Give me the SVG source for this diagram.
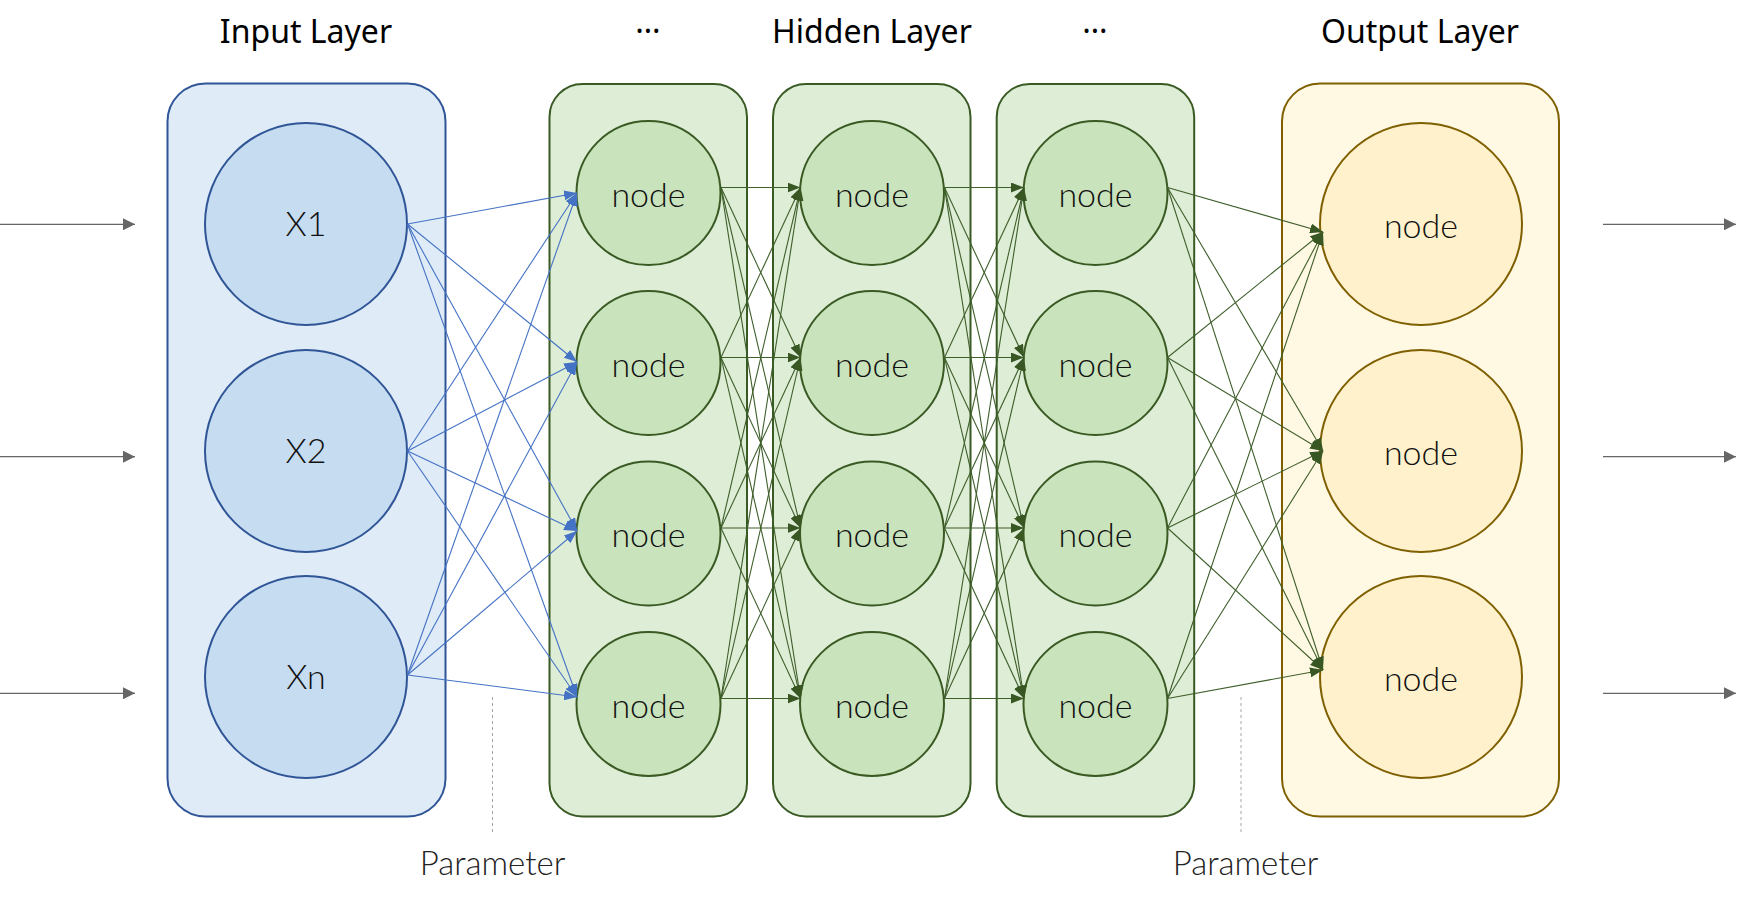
<svg xmlns="http://www.w3.org/2000/svg" width="1751" height="903" viewBox="0 0 1751 903">
<style>
.title{font-family:"Noto Sans","Noto Sans CJK KR",sans-serif;font-size:32px;font-weight:400;fill:#000;text-anchor:middle}
.lbl{font-family:Lato,"Noto Sans","Noto Sans CJK KR",sans-serif;font-size:34px;font-weight:300;fill:#111;text-anchor:middle}
.par{font-family:Lato,"Noto Sans","Noto Sans CJK KR",sans-serif;font-size:33px;font-weight:300;fill:#222;text-anchor:middle}
.inbox{fill:#DFEBF7;stroke:#2F5597;stroke-width:2}
.incir{fill:#C6DCF0;stroke:#2F5597;stroke-width:2}
.hbox{fill:#DEEDD6;stroke:#3A5A24;stroke-width:2}
.hcir{fill:#C9E3BC;stroke:#3A5A24;stroke-width:2}
.obox{fill:#FFF8E3;stroke:#7F6000;stroke-width:2}
.ocir{fill:#FFF1CB;stroke:#7F6000;stroke-width:2}
.cb{stroke:#4472C4;stroke-width:1.1;fill:none;marker-end:url(#ab)}
.cg{stroke:#3E5E2A;stroke-width:1.1;fill:none;marker-end:url(#ag)}
.io{stroke:#666;stroke-width:1.3;fill:none;marker-end:url(#ai)}
.dash{stroke:#A6A6A6;stroke-width:1;stroke-dasharray:3,3;fill:none}
</style>
<defs>
<marker id="ab" viewBox="0 0 13 10" refX="13" refY="5" markerWidth="13" markerHeight="10" markerUnits="userSpaceOnUse" orient="auto"><path d="M0,0 L13,5 L0,10 Z" fill="#4472C4"/></marker>
<marker id="ag" viewBox="0 0 13 10" refX="13" refY="5" markerWidth="13" markerHeight="10" markerUnits="userSpaceOnUse" orient="auto"><path d="M0,0 L13,5 L0,10 Z" fill="#385723"/></marker>
<marker id="ai" viewBox="0 0 12 12" refX="12" refY="6" markerWidth="12" markerHeight="12" markerUnits="userSpaceOnUse" orient="auto"><path d="M0,0 L12,6 L0,12 Z" fill="#666"/></marker>
</defs>
<rect width="1751" height="903" fill="#fff"/>
<g id="titles">
<text class="title" x="306" y="42.5">Input Layer</text>
<text class="title" x="648" y="33">…</text>
<text class="title" x="872" y="42.5">Hidden Layer</text>
<text class="title" x="1095" y="33">…</text>
<text class="title" x="1420" y="42.5">Output Layer</text>
</g>
<g id="input-layer">
<rect class="inbox" x="167.5" y="83.5" width="278" height="733" rx="38"/>
</g>
<g id="hidden-layer-1"><rect class="hbox" x="549.5" y="84" width="197.5" height="732.5" rx="33"/></g>
<g id="hidden-layer-2"><rect class="hbox" x="773" y="84" width="197.5" height="732.5" rx="33"/></g>
<g id="hidden-layer-3"><rect class="hbox" x="996.7" y="84" width="197.5" height="732.5" rx="33"/></g>
<g id="output-layer"><rect class="obox" x="1282" y="83.5" width="277" height="733" rx="38"/></g>
<g id="x1"><circle class="incir" cx="306" cy="224" r="101"/><text class="lbl" x="306" y="236">X1</text></g>
<g id="x2"><circle class="incir" cx="306" cy="451" r="101"/><text class="lbl" x="306" y="463">X2</text></g>
<g id="xn"><circle class="incir" cx="306" cy="677" r="101"/><text class="lbl" x="306" y="689">Xn</text></g>
<g id="h1n1"><circle class="hcir" cx="648.5" cy="193" r="72"/><text class="lbl" x="648.5" y="206.5">node</text></g>
<g id="h1n2"><circle class="hcir" cx="648.5" cy="363" r="72"/><text class="lbl" x="648.5" y="376.5">node</text></g>
<g id="h1n3"><circle class="hcir" cx="648.5" cy="533.5" r="72"/><text class="lbl" x="648.5" y="547">node</text></g>
<g id="h1n4"><circle class="hcir" cx="648.5" cy="704" r="72"/><text class="lbl" x="648.5" y="717.5">node</text></g>
<g id="h2n1"><circle class="hcir" cx="872" cy="193" r="72"/><text class="lbl" x="872" y="206.5">node</text></g>
<g id="h2n2"><circle class="hcir" cx="872" cy="363" r="72"/><text class="lbl" x="872" y="376.5">node</text></g>
<g id="h2n3"><circle class="hcir" cx="872" cy="533.5" r="72"/><text class="lbl" x="872" y="547">node</text></g>
<g id="h2n4"><circle class="hcir" cx="872" cy="704" r="72"/><text class="lbl" x="872" y="717.5">node</text></g>
<g id="h3n1"><circle class="hcir" cx="1095.5" cy="193" r="72"/><text class="lbl" x="1095.5" y="206.5">node</text></g>
<g id="h3n2"><circle class="hcir" cx="1095.5" cy="363" r="72"/><text class="lbl" x="1095.5" y="376.5">node</text></g>
<g id="h3n3"><circle class="hcir" cx="1095.5" cy="533.5" r="72"/><text class="lbl" x="1095.5" y="547">node</text></g>
<g id="h3n4"><circle class="hcir" cx="1095.5" cy="704" r="72"/><text class="lbl" x="1095.5" y="717.5">node</text></g>
<g id="o1"><circle class="ocir" cx="1421" cy="224" r="101"/><text class="lbl" x="1421" y="237.5">node</text></g>
<g id="o2"><circle class="ocir" cx="1421" cy="451" r="101"/><text class="lbl" x="1421" y="464.5">node</text></g>
<g id="o3"><circle class="ocir" cx="1421" cy="677" r="101"/><text class="lbl" x="1421" y="690.5">node</text></g>
<g id="connectors">
<line class="io" x1="0" y1="224.3" x2="135" y2="224.3"/>
<line class="io" x1="0" y1="456.7" x2="135" y2="456.7"/>
<line class="io" x1="0" y1="693.3" x2="135" y2="693.3"/>
<line class="io" x1="1603" y1="224.3" x2="1736" y2="224.3"/>
<line class="io" x1="1603" y1="456.7" x2="1736" y2="456.7"/>
<line class="io" x1="1603" y1="693.3" x2="1736" y2="693.3"/>
<line class="cb" x1="407.5" y1="224" x2="577" y2="193"/>
<line class="cb" x1="407.5" y1="224" x2="577" y2="362"/>
<line class="cb" x1="407.5" y1="224" x2="577" y2="531"/>
<line class="cb" x1="407.5" y1="224" x2="577" y2="697"/>
<line class="cb" x1="407.5" y1="451" x2="577" y2="193"/>
<line class="cb" x1="407.5" y1="451" x2="577" y2="362"/>
<line class="cb" x1="407.5" y1="451" x2="577" y2="531"/>
<line class="cb" x1="407.5" y1="451" x2="577" y2="697"/>
<line class="cb" x1="407.5" y1="675" x2="577" y2="193"/>
<line class="cb" x1="407.5" y1="675" x2="577" y2="362"/>
<line class="cb" x1="407.5" y1="675" x2="577" y2="531"/>
<line class="cb" x1="407.5" y1="675" x2="577" y2="697"/>
<line class="cg" x1="721" y1="187.5" x2="800.5" y2="187.5"/>
<line class="cg" x1="721" y1="187.5" x2="800.5" y2="357.5"/>
<line class="cg" x1="721" y1="187.5" x2="800.5" y2="528"/>
<line class="cg" x1="721" y1="187.5" x2="800.5" y2="698.5"/>
<line class="cg" x1="721" y1="357.5" x2="800.5" y2="187.5"/>
<line class="cg" x1="721" y1="357.5" x2="800.5" y2="357.5"/>
<line class="cg" x1="721" y1="357.5" x2="800.5" y2="528"/>
<line class="cg" x1="721" y1="357.5" x2="800.5" y2="698.5"/>
<line class="cg" x1="721" y1="528" x2="800.5" y2="187.5"/>
<line class="cg" x1="721" y1="528" x2="800.5" y2="357.5"/>
<line class="cg" x1="721" y1="528" x2="800.5" y2="528"/>
<line class="cg" x1="721" y1="528" x2="800.5" y2="698.5"/>
<line class="cg" x1="721" y1="698.5" x2="800.5" y2="187.5"/>
<line class="cg" x1="721" y1="698.5" x2="800.5" y2="357.5"/>
<line class="cg" x1="721" y1="698.5" x2="800.5" y2="528"/>
<line class="cg" x1="721" y1="698.5" x2="800.5" y2="698.5"/>
<line class="cg" x1="944.5" y1="187.5" x2="1024" y2="187.5"/>
<line class="cg" x1="944.5" y1="187.5" x2="1024" y2="357.5"/>
<line class="cg" x1="944.5" y1="187.5" x2="1024" y2="528"/>
<line class="cg" x1="944.5" y1="187.5" x2="1024" y2="698.5"/>
<line class="cg" x1="944.5" y1="357.5" x2="1024" y2="187.5"/>
<line class="cg" x1="944.5" y1="357.5" x2="1024" y2="357.5"/>
<line class="cg" x1="944.5" y1="357.5" x2="1024" y2="528"/>
<line class="cg" x1="944.5" y1="357.5" x2="1024" y2="698.5"/>
<line class="cg" x1="944.5" y1="528" x2="1024" y2="187.5"/>
<line class="cg" x1="944.5" y1="528" x2="1024" y2="357.5"/>
<line class="cg" x1="944.5" y1="528" x2="1024" y2="528"/>
<line class="cg" x1="944.5" y1="528" x2="1024" y2="698.5"/>
<line class="cg" x1="944.5" y1="698.5" x2="1024" y2="187.5"/>
<line class="cg" x1="944.5" y1="698.5" x2="1024" y2="357.5"/>
<line class="cg" x1="944.5" y1="698.5" x2="1024" y2="528"/>
<line class="cg" x1="944.5" y1="698.5" x2="1024" y2="698.5"/>
<line class="cg" x1="1167.5" y1="187.5" x2="1323" y2="232"/>
<line class="cg" x1="1167.5" y1="187.5" x2="1323" y2="451"/>
<line class="cg" x1="1167.5" y1="187.5" x2="1323" y2="670"/>
<line class="cg" x1="1167.5" y1="357.5" x2="1323" y2="232"/>
<line class="cg" x1="1167.5" y1="357.5" x2="1323" y2="451"/>
<line class="cg" x1="1167.5" y1="357.5" x2="1323" y2="670"/>
<line class="cg" x1="1167.5" y1="528" x2="1323" y2="232"/>
<line class="cg" x1="1167.5" y1="528" x2="1323" y2="451"/>
<line class="cg" x1="1167.5" y1="528" x2="1323" y2="670"/>
<line class="cg" x1="1167.5" y1="698.5" x2="1323" y2="232"/>
<line class="cg" x1="1167.5" y1="698.5" x2="1323" y2="451"/>
<line class="cg" x1="1167.5" y1="698.5" x2="1323" y2="670"/>
<line class="dash" x1="492.5" y1="697" x2="492.5" y2="833"/>
<line class="dash" x1="1241" y1="697" x2="1241" y2="833"/>
</g>
<g id="parameter-labels">
<text class="par" x="492.5" y="875">Parameter</text>
<text class="par" x="1245.5" y="875">Parameter</text>
</g>
</svg>
